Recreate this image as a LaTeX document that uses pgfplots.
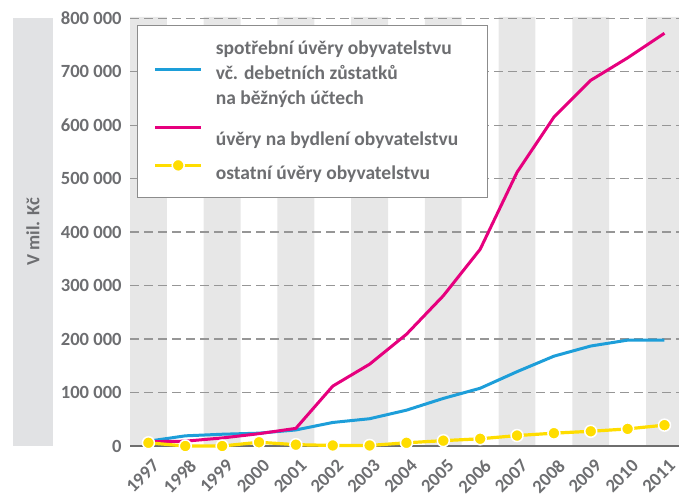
\documentclass[border=0pt]{standalone}
\usepackage{pgfplots}
\pgfplotsset{compat=1.18}
\usepackage{fontspec}
\setmainfont{Carlito}

\definecolor{blueC}{RGB}{29,158,217}
\definecolor{pinkC}{RGB}{230,0,126}
\definecolor{yellowC}{RGB}{255,221,0}
\definecolor{textgray}{RGB}{109,110,113}
\definecolor{gridgray}{RGB}{150,150,150}
\definecolor{bandgray}{RGB}{231,231,231}
\definecolor{labelband}{RGB}{225,226,228}
\definecolor{basegray}{RGB}{110,110,110}
\definecolor{legendgray}{RGB}{140,140,140}

\newcommand{\lblfont}{\fontsize{9.3pt}{12.25pt}\selectfont\bfseries}
\newcommand{\legfont}{\fontsize{9.75pt}{12.25pt}\selectfont\bfseries}
% legend text cell: strut sets the row height, fixed width
\newcommand{\lcell}[2]{\rlap{\rule{0pt}{#1}#2}\hspace*{128pt}}

\begin{document}
\begin{tikzpicture}[font=\lblfont]
\begin{axis}[
    set layers,
    at={(0pt,0pt)}, anchor=south west,
    scale only axis, width=274.5pt, height=214.5pt,
    xmin=1996.5, xmax=2011.394, ymin=0, ymax=802400,
    axis line style={draw=none},
    major tick length=0pt,
    clip=false,
    scaled y ticks=false,
    xtick={1997,1998,1999,2000,2001,2002,2003,2004,2005,2006,2007,2008,2009,2010,2011},
    xticklabels={1997,1998,1999,2000,2001,2002,2003,2004,2005,2006,2007,2008,2009,2010,2011},
    xticklabel style={rotate=45, anchor=north east, inner sep=0pt, xshift=-3.1pt, yshift=-5.35pt},
    ytick={0,100000,200000,300000,400000,500000,600000,700000,800000},
    yticklabels={0,100 000,200 000,300 000,400 000,500 000,600 000,700 000,800 000},
    yticklabel style={inner sep=0pt, xshift=-4pt},
    tick label style={text=textgray, font=\lblfont},
    ymajorgrids,
    major grid style={draw=gridgray, line width=0.65pt, dash pattern=on 4.5pt off 2.5pt},
    extra y ticks={0}, extra y tick labels={},
    extra y tick style={major grid style={draw=basegray, solid, line width=0.8pt}},
    legend cell align=left,
    legend image code/.code={\draw[mark repeat=2,mark phase=2,#1] plot coordinates {(0pt,0pt) (11.5pt,0pt) (23pt,0pt)};},
    legend style={at={(0.01275,0.98135)}, anchor=north west, draw=legendgray, line width=0.6pt,
        fill=white, inner xsep=8pt, inner ysep=7.5pt, row sep=0pt, column sep=6.5pt,
        text=textgray, font=\legfont, nodes={inner sep=0pt}},
]
% alternating year bands
\addplot[ybar interval, fill=bandgray, draw=none, on layer=axis background, forget plot] coordinates {
    (1996.5,802400) (1997.5,0) (1998.5,802400) (1999.5,0) (2000.5,802400) (2001.5,0)
    (2002.5,802400) (2003.5,0) (2004.5,802400) (2005.5,0) (2006.5,802400) (2007.5,0)
    (2008.5,802400) (2009.5,0) (2010.5,802400) (2011.394,0)};

\addlegendimage{empty legend}
\addlegendentry{\lcell{6pt}{spotřební úvěry obyvatelstvu}}

\addplot[blueC, line width=1.5pt, line join=round] coordinates {
    (1997,9000) (1998,19000) (1999,22000) (2000,24000) (2001,30000) (2002,44000)
    (2003,51000) (2004,67000) (2005,89000) (2006,108000) (2007,139000) (2008,168000)
    (2009,187000) (2010,198000) (2011,198000)};
\addlegendentry{\lcell{11.05pt}{vč. debetních zůstatků}}

\addlegendimage{empty legend}
\addlegendentry{\lcell{11.05pt}{na běžných účtech}}

\addplot[pinkC, line width=1.5pt, line join=round] coordinates {
    (1997,8000) (1998,9000) (1999,15000) (2000,23000) (2001,33000) (2002,112000)
    (2003,153000) (2004,209000) (2005,281000) (2006,368000) (2007,512000) (2008,615000)
    (2009,684000) (2010,726000) (2011,772000)};
\addlegendentry{\lcell{18.8pt}{úvěry na bydlení obyvatelstvu}}

\addplot[yellowC, line width=1.6pt, line join=round, mark=*, mark size=3pt,
    mark options={fill=yellowC, draw=white, line width=0.75pt}] coordinates {
    (1997,6000) (1998,0) (1999,0) (2000,7000) (2001,2500) (2002,1000)
    (2003,1000) (2004,6000) (2005,10000) (2006,13500) (2007,19500) (2008,24000)
    (2009,27500) (2010,32000) (2011,39000)};
\addlegendentry{\rule[-7pt]{0pt}{7pt}\lcell{15.8pt}{ostatní úvěry obyvatelstvu}}
\end{axis}
% grey strip behind the y label
\fill[labelband] (-58.5pt,0pt) rectangle (-38.5pt,214pt);
\node[rotate=90, text=textgray, font=\lblfont] at (-48.5pt,107pt) {V mil. Kč};
\pgfresetboundingbox
\path[use as bounding box] (-65pt,-25.5pt) rectangle (274.5pt,223pt);
\end{tikzpicture}
\end{document}
